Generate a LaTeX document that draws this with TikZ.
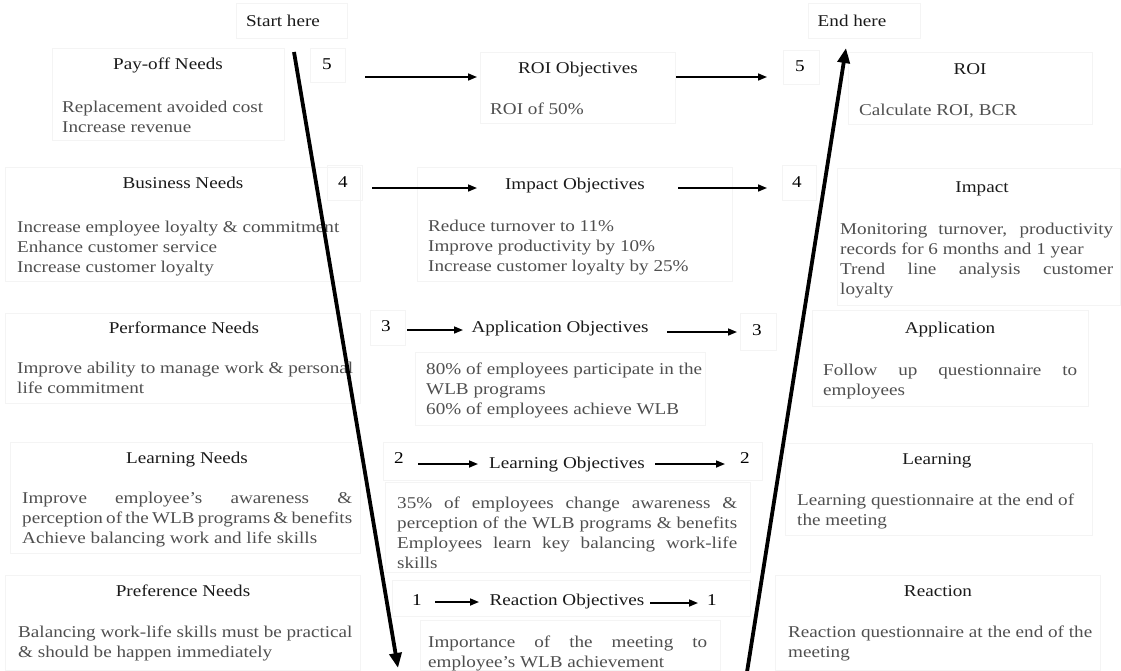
\documentclass[tikz,border=0pt]{standalone}
\usepackage{fontspec}
\setmainfont[FakeStretch=1.16]{Liberation Serif}
\usetikzlibrary{arrows.meta}
\definecolor{ttl}{HTML}{1A1A1A}
\definecolor{bdy}{HTML}{4F4F4F}
\definecolor{faint}{HTML}{F4F4F4}
\newcommand{\jline}[2]{\makebox[#1pt][s]{#2}}
\begin{document}
\begin{tikzpicture}[x=1pt,y=-1pt,
  every node/.style={inner sep=0pt, font=\fontsize{16.5}{20}\selectfont},
  ttlt/.style={anchor=base, text=ttl},
  bodyt/.style={anchor=base west, align=left, text=bdy},
  numt/.style={anchor=base, text=black},
  fbox/.style={draw=faint, line width=0.6pt},
  harr/.style={line width=1.6pt, -{Triangle[length=9pt,width=7pt]}},
  bigarr/.style={line width=3.8pt, -{Triangle[length=15pt,width=12pt]}}]
\useasboundingbox (0,0) rectangle (1121,670);

% faint boxes
\draw[fbox] (236,3) rectangle (347,38);
\draw[fbox] (808,3) rectangle (920,38);
\draw[fbox] (52,48) rectangle (284,140);
\draw[fbox] (310,48) rectangle (345,82);
\draw[fbox] (480,52) rectangle (675,123);
\draw[fbox] (783,50) rectangle (819,84);
\draw[fbox] (848,52) rectangle (1092,124);
\draw[fbox] (5,167) rectangle (360,281);
\draw[fbox] (327,165) rectangle (362,200);
\draw[fbox] (417,167) rectangle (732,281);
\draw[fbox] (782,165) rectangle (816,200);
\draw[fbox] (837,168) rectangle (1120,305);
\draw[fbox] (5,313) rectangle (360,403);
\draw[fbox] (370,310) rectangle (405,345);
\draw[fbox] (740,313) rectangle (776,350);
\draw[fbox] (415,352) rectangle (705,425);
\draw[fbox] (812,310) rectangle (1088,406);
\draw[fbox] (10,442) rectangle (360,553);
\draw[fbox] (383,442) rectangle (762,480);
\draw[fbox] (385,482) rectangle (750,572);
\draw[fbox] (785,443) rectangle (1092,535);
\draw[fbox] (5,575) rectangle (360,670);
\draw[fbox] (392,580) rectangle (750,616);
\draw[fbox] (420,620) rectangle (720,670);
\draw[fbox] (775,575) rectangle (1100,670);

% top labels
\node[ttlt] (start) at (283,26) {Start here};
\node[ttlt] (endh) at (852,26) {End here};

% level 5
\node[ttlt] (payt) at (168,69) {Pay-off Needs};
\node[bodyt] (payb) at (62,132) {Replacement avoided cost\\Increase revenue};
\node[numt] (n5l) at (327,69) {5};
\node[ttlt] (roiot) at (578,73) {ROI Objectives};
\node[bodyt] (roiob) at (490,114) {ROI of 50\%};
\node[numt] (n5r) at (800,71) {5};
\node[ttlt] (roit) at (970,74) {ROI};
\node[bodyt] (roib) at (859,115) {Calculate ROI, BCR};

% level 4
\node[ttlt] (bust) at (183,188) {Business Needs};
\node[bodyt] (busb) at (17,272) {Increase employee loyalty \& commitment\\Enhance customer service\\Increase customer loyalty};
\node[numt] (n4l) at (343,187) {4};
\node[ttlt] (impot) at (575,189) {Impact Objectives};
\node[bodyt] (impob) at (428,271) {Reduce turnover to 11\%\\Improve productivity by 10\%\\Increase customer loyalty by 25\%};
\node[numt] (n4r) at (797,187) {4};
\node[ttlt] (impt) at (982,192) {Impact};
\node[bodyt] (impb) at (840,294) {\jline{273}{Monitoring turnover, productivity}\\records for 6 months and 1 year\\\jline{273}{Trend line analysis customer}\\loyalty};

% level 3
\node[ttlt] (perft) at (184,333) {Performance Needs};
\node[bodyt] (perfb) at (17,393) {Improve ability to manage work \& personal\\life commitment};
\node[numt] (n3l) at (386,331) {3};
\node[ttlt] (appot) at (560,332) {Application Objectives};
\node[bodyt] (appob) at (426,414) {80\% of employees participate in the\\WLB programs\\60\% of employees achieve WLB};
\node[numt] (n3r) at (757,335) {3};
\node[ttlt] (appt) at (950,333) {Application};
\node[bodyt] (appb) at (823,395) {\jline{254}{Follow up questionnaire to}\\employees};

% level 2
\node[ttlt] (lnt) at (187,463) {Learning Needs};
\node[bodyt] (lnb) at (22,543) {\jline{330}{Improve employee’s awareness \&}\\\jline{330}{perception of the WLB programs \& benefits}\\Achieve balancing work and life skills};
\node[numt] (n2l) at (399,463) {2};
\node[ttlt] (lot) at (567,468) {Learning Objectives};
\node[numt] (n2r) at (745,463) {2};
\node[bodyt] (lob) at (397,568) {\jline{340}{35\% of employees change awareness \&}\\\jline{340}{perception of the WLB programs \& benefits}\\\jline{340}{Employees learn key balancing work-life}\\skills};
\node[ttlt] (lrt) at (937,464) {Learning};
\node[bodyt] (lrb) at (797,525) {Learning questionnaire at the end of\\the meeting};

% level 1
\node[ttlt] (prt) at (183,596) {Preference Needs};
\node[bodyt] (prb) at (18,657) {Balancing work-life skills must be practical\\\& should be happen immediately};
\node[numt] (n1l) at (417,605) {1};
\node[ttlt] (rot) at (567,605) {Reaction Objectives};
\node[numt] (n1r) at (712,605) {1};
\node[bodyt] (rob) at (428,667) {\jline{279}{Importance of the meeting to}\\employee’s WLB achievement};
\node[ttlt] (rct) at (938,596) {Reaction};
\node[bodyt] (rcb) at (788,657) {Reaction questionnaire at the end of the\\meeting};

% arrow coordinates
\coordinate (a1s) at (365,77);  \coordinate (a1e) at (477,77);
\coordinate (a2s) at (676,77);  \coordinate (a2e) at (767,77);
\coordinate (a3s) at (372,188); \coordinate (a3e) at (477,188);
\coordinate (a4s) at (678,188); \coordinate (a4e) at (767,188);
\coordinate (a5s) at (407,330); \coordinate (a5e) at (463,330);
\coordinate (a6s) at (667,332); \coordinate (a6e) at (737,332);
\coordinate (a7s) at (418,464); \coordinate (a7e) at (478,464);
\coordinate (a8s) at (655,464); \coordinate (a8e) at (725,464);
\coordinate (a9s) at (435,602); \coordinate (a9e) at (479,602);
\coordinate (a10s) at (650,603); \coordinate (a10e) at (698,603);
\coordinate (downs) at (294,52); \coordinate (downe) at (398,668);
\coordinate (ups) at (747,672); \coordinate (upe) at (846,48);

\draw[harr] (a1s) -- (a1e);
\draw[harr] (a2s) -- (a2e);
\draw[harr] (a3s) -- (a3e);
\draw[harr] (a4s) -- (a4e);
\draw[harr] (a5s) -- (a5e);
\draw[harr] (a6s) -- (a6e);
\draw[harr] (a7s) -- (a7e);
\draw[harr] (a8s) -- (a8e);
\draw[harr] (a9s) -- (a9e);
\draw[harr] (a10s) -- (a10e);
\draw[bigarr] (downs) -- (downe);
\draw[bigarr] (ups) -- (upe);
\end{tikzpicture}
\end{document}
